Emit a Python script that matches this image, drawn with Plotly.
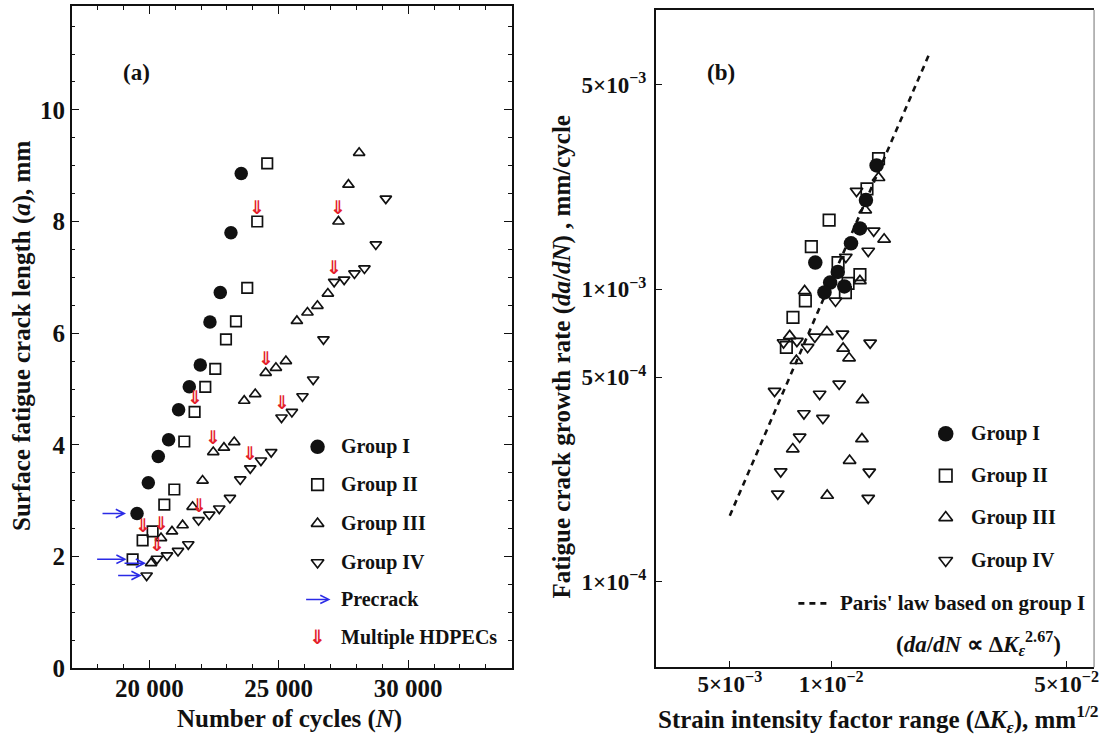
import math
import plotly.graph_objects as go

# ---------------- Panel (a): surface crack length vs number of cycles ----------------
g1_N = [19525, 19961, 20347, 20745, 21131, 21544, 21969, 22343, 22741, 23154, 23551]
g1_a = [2.77, 3.32, 3.79, 4.09, 4.63, 5.04, 5.43, 6.20, 6.73, 7.80, 8.86]
g2_N = [19355, 19741, 20127, 20579, 20965, 21351, 21749, 22162, 22548, 22961, 23347, 23783, 24169, 24555]
g2_a = [1.95, 2.29, 2.45, 2.93, 3.20, 4.06, 4.59, 5.04, 5.36, 5.89, 6.21, 6.81, 8.00, 9.04]
g3_N = [20066, 20452, 20876, 21285, 21671, 22057, 22470, 22883, 23281, 23667, 24092, 24497, 24891,
        25277, 25701, 26110, 26496, 26898, 27307, 27693, 28106]
g3_a = [1.88, 2.33, 2.45, 2.56, 2.89, 3.36, 3.87, 3.95, 4.05, 4.79, 4.91, 5.29, 5.38,
        5.50, 6.22, 6.37, 6.49, 6.71, 8.00, 8.66, 9.23]
g4_N = [19896, 20297, 20683, 21108, 21505, 21903, 22316, 22702, 23115, 23513, 23899, 24312, 24709,
        25107, 25508, 25917, 26330, 26728, 27141, 27527, 27925, 28311, 28751, 29137]
g4_a = [1.66, 1.96, 2.02, 2.10, 2.22, 2.65, 2.75, 2.86, 3.05, 3.38, 3.58, 3.72, 3.87,
        4.49, 4.59, 4.87, 5.17, 5.89, 6.92, 6.96, 7.07, 7.16, 7.59, 8.41]
# indices of points marked with "multiple HDPECs"
hdpec_g2 = [1, 6, 12]
hdpec_g3 = [1, 6, 11, 18]
hdpec_g4 = [1, 5, 10, 13, 18]

a_xticks = [20000, 25000, 30000]
a_xticklabels = ["20 000", "25 000", "30 000"]
a_yticks = [0, 2, 4, 6, 8, 10]
a_yticklabels = ["0", "2", "4", "6", "8", "10"]

# ---------------- Panel (b): crack growth rate vs strain intensity factor range ----------------
b1_K = [0.01364, 0.01268, 0.01217, 0.01145, 0.00897, 0.01046, 0.00993, 0.01094, 0.00955]
b1_r = [2.647e-3, 2.015e-3, 1.613e-3, 1.434e-3, 1.232e-3, 1.145e-3, 1.053e-3, 1.021e-3, 9.74e-4]
b2_K = [0.01382, 0.01277, 0.00986, 0.00873, 0.01048, 0.01217, 0.01122, 0.01102, 0.00838, 0.00770, 0.00736]
b2_r = [2.795e-3, 2.20e-3, 1.722e-3, 1.397e-3, 1.232e-3, 1.12e-3, 1.047e-3, 9.72e-4, 9.11e-4, 8.0e-4, 6.32e-4]
b3_K = [0.01382, 0.01262, 0.01436, 0.01217, 0.00834, 0.00753, 0.00971, 0.01085, 0.01130, 0.00788,
        0.01238, 0.01234, 0.00769, 0.01134, 0.00973]
b3_r = [2.403e-3, 1.863e-3, 1.48e-3, 1.067e-3, 9.86e-4, 6.92e-4, 7.14e-4, 6.27e-4, 5.81e-4, 5.69e-4,
        4.18e-4, 3.075e-4, 2.84e-4, 2.594e-4, 1.97e-4]
b4_K = [0.01189, 0.01337, 0.01288, 0.01105, 0.01030, 0.01080, 0.00894, 0.00791, 0.00851, 0.00722,
        0.01305, 0.00679, 0.00924, 0.01056, 0.00830, 0.00945, 0.00806, 0.00708, 0.01297, 0.00694, 0.01288]
b4_r = [2.163e-3, 1.582e-3, 1.35e-3, 1.287e-3, 9.11e-4, 7.03e-4, 6.87e-4, 6.64e-4, 6.33e-4, 6.57e-4,
        6.55e-4, 4.48e-4, 4.38e-4, 4.74e-4, 3.757e-4, 3.62e-4, 3.124e-4, 2.378e-4, 2.373e-4, 1.996e-4, 1.93e-4]
paris_K = [0.005, 0.0197]
paris_r = [1.68e-4, 6.5e-3]

b_xticks = [0.005, 0.01, 0.05]
b_xticklabels = ["5×10<sup>−3</sup>", "1×10<sup>−2</sup>", "5×10<sup>−2</sup>"]
b_yticks = [1e-4, 5e-4, 1e-3, 5e-3]
b_yticklabels = ["1×10<sup>−4</sup>", "5×10<sup>−4</sup>", "1×10<sup>−3</sup>", "5×10<sup>−3</sup>"]

group_names = ["Group I", "Group II", "Group III", "Group IV"]

# ---------------- styling ----------------
W, H = 1111, 752          # layout size
PW, PH = 1111, 740        # picture size used for placing things
SERIF = "Liberation Serif"
INK = "#111111"
BLUE = "#2a2ae6"
RED = "#e3202a"


def px_x(p):
    return p / PW


def px_y(p):
    return 1 - p / PH


def bold(labels):
    return ["<b>%s</b>" % s for s in labels]


styles = [
    dict(symbol="circle", size=13.5, color=INK, line=dict(width=0)),
    dict(symbol="square-open", size=10.5, color=INK, line=dict(width=1.7, color=INK)),
    dict(symbol="triangle-up-open", size=10, color=INK, line=dict(width=1.7, color=INK)),
    dict(symbol="triangle-down-open", size=10, color=INK, line=dict(width=1.7, color=INK)),
]

fig = go.Figure()

# Panel (a) data
a_sets = [(g1_N, g1_a), (g2_N, g2_a), (g3_N, g3_a), (g4_N, g4_a)]
for (n, a), st, nm in zip(a_sets, styles, group_names):
    fig.add_trace(go.Scatter(x=n, y=a, mode="markers", marker=st, name=nm,
                             showlegend=False, xaxis="x", yaxis="y", cliponaxis=False))

# Panel (b) data
fig.add_trace(go.Scatter(x=paris_K, y=paris_r, mode="lines",
                         line=dict(color=INK, width=2.6, dash="6px,5px"),
                         showlegend=False, xaxis="x2", yaxis="y2"))
b_sets = [(b2_K, b2_r, 1), (b3_K, b3_r, 2), (b4_K, b4_r, 3), (b1_K, b1_r, 0)]
for k, r, i in b_sets:
    st = dict(styles[i])
    st["size"] = st["size"] + 1
    fig.add_trace(go.Scatter(x=k, y=r, mode="markers", marker=st, name=group_names[i],
                             showlegend=False, xaxis="x2", yaxis="y2"))

annotations = []

# Red "multiple HDPECs" markers above points
for idxs, (n, a) in zip([hdpec_g2, hdpec_g3, hdpec_g4], a_sets[1:]):
    for i in idxs:
        annotations.append(dict(x=n[i], y=a[i], xref="x", yref="y", text="<b>⇓</b>", showarrow=False,
                                yshift=15, font=dict(family="DejaVu Sans", size=19, color=RED)))

# Blue precrack arrows pointing at the first point of each group
pre_ax = [-36, -37, -28, -30]
pre_stand = [11, 6, 5, 5]
for (n, a), axo, so in zip(a_sets, pre_ax, pre_stand):
    annotations.append(dict(x=n[0], y=a[0], xref="x", yref="y", ax=axo, ay=0, axref="pixel", ayref="pixel",
                            showarrow=True, arrowhead=5, arrowsize=1.1, arrowwidth=1.5, arrowcolor=BLUE,
                            standoff=so, text=""))

# ---------------- legends (drawn on a full-figure overlay in picture pixels) ----------------
leg_a_y = [448, 486, 525, 564, 601, 639]
leg_a_sx, leg_a_tx = 319, 341
leg_b_y = [435, 477, 519, 562]
leg_b_sx, leg_b_tx = 950, 973
LEGFONT = dict(family=SERIF, size=20, color=INK)

for i in range(4):
    st = dict(styles[i]); st["size"] = st["size"] + 1
    fig.add_trace(go.Scatter(x=[leg_a_sx], y=[leg_a_y[i]], mode="markers", marker=st,
                             showlegend=False, xaxis="x3", yaxis="y3"))
    st2 = dict(styles[i]); st2["size"] = st2["size"] + 2
    fig.add_trace(go.Scatter(x=[leg_b_sx], y=[leg_b_y[i]], mode="markers", marker=st2,
                             showlegend=False, xaxis="x3", yaxis="y3"))
    annotations.append(dict(x=leg_a_tx, y=leg_a_y[i], xref="x3", yref="y3", text="<b>%s</b>" % group_names[i],
                            showarrow=False, xanchor="left", yanchor="middle", font=LEGFONT))
    annotations.append(dict(x=leg_b_tx, y=leg_b_y[i], xref="x3", yref="y3", text="<b>%s</b>" % group_names[i],
                            showarrow=False, xanchor="left", yanchor="middle", font=LEGFONT))

annotations.append(dict(x=332, y=leg_a_y[4], xref="x3", yref="y3", ax=306, ay=leg_a_y[4], axref="x3", ayref="y3",
                        showarrow=True, arrowhead=5, arrowsize=1.1, arrowwidth=1.5, arrowcolor=BLUE, text=""))
annotations.append(dict(x=leg_a_tx, y=leg_a_y[4], xref="x3", yref="y3", text="<b>Precrack</b>",
                        showarrow=False, xanchor="left", yanchor="middle", font=LEGFONT))
annotations.append(dict(x=leg_a_sx, y=leg_a_y[5], xref="x3", yref="y3", text="<b>⇓</b>", showarrow=False,
                        font=dict(family="DejaVu Sans", size=20, color=RED)))
annotations.append(dict(x=leg_a_tx, y=leg_a_y[5], xref="x3", yref="y3", text="<b>Multiple HDPECs</b>",
                        showarrow=False, xanchor="left", yanchor="middle", font=LEGFONT))

fig.add_trace(go.Scatter(x=[802, 831], y=[605, 605], mode="lines",
                         line=dict(color=INK, width=2.6, dash="6px,5px"),
                         showlegend=False, xaxis="x3", yaxis="y3"))
annotations.append(dict(x=842, y=605, xref="x3", yref="y3", text="<b>Paris' law based on group I</b>",
                        showarrow=False, xanchor="left", yanchor="middle", font=dict(family=SERIF, size=21, color=INK)))
annotations.append(dict(x=983, y=645, xref="x3", yref="y3",
                        text="<b>(<i>da</i>/<i>dN</i> ∝ Δ<i>K</i><sub><i>ε</i></sub><sup>2.67</sup>)</b>",
                        showarrow=False, xanchor="center", yanchor="middle", font=dict(family=SERIF, size=23, color=INK)))

# panel labels
annotations.append(dict(x=137, y=73, xref="x3", yref="y3", text="<b>(a)</b>", showarrow=False,
                        font=dict(family=SERIF, size=23, color=INK)))
annotations.append(dict(x=724, y=73, xref="x3", yref="y3", text="<b>(b)</b>", showarrow=False,
                        font=dict(family=SERIF, size=23, color=INK)))

# axis titles
TITLEFONT = dict(family=SERIF, size=25, color=INK)
annotations.append(dict(x=22, y=337, xref="x3", yref="y3", textangle=-90,
                        text="<b>Surface fatigue crack length (<i>a</i>), mm</b>", showarrow=False, font=TITLEFONT))
annotations.append(dict(x=291, y=721, xref="x3", yref="y3",
                        text="<b>Number of cycles (<i>N</i>)</b>", showarrow=False, font=TITLEFONT))
annotations.append(dict(x=565, y=358, xref="x3", yref="y3", textangle=-90,
                        text="<b>Fatigue crack growth rate (<i>da</i>/<i>dN</i>) , mm/cycle</b>", showarrow=False,
                        font=TITLEFONT))
annotations.append(dict(x=882, y=721, xref="x3", yref="y3",
                        text="<b>Strain intensity factor range (Δ<i>K</i><sub><i>ε</i></sub>), mm<sup>1/2</sup></b>",
                        showarrow=False, font=TITLEFONT))

tickfont_a = dict(family=SERIF, size=25, color=INK)
tickfont_b = dict(family=SERIF, size=23, color=INK)

fig.update_layout(
    width=W, height=H,
    margin=dict(l=0, r=0, t=0, b=0),
    paper_bgcolor="white", plot_bgcolor="rgba(0,0,0,0)",
    showlegend=False,
    annotations=annotations,
    shapes=[dict(type="line", xref="paper", yref="paper", x0=px_x(1099), x1=px_x(1099),
                 y0=px_y(669), y1=px_y(10), line=dict(color="#888888", width=1.2))],
    xaxis=dict(domain=[px_x(72), px_x(514)], range=[17000, 34000], anchor="y",
               tickvals=a_xticks, ticktext=bold(a_xticklabels), ticks="inside", ticklen=8, tickwidth=1.2,
               tickcolor=INK, showline=True, linecolor=INK, linewidth=1.5, mirror="ticks",
               showgrid=False, zeroline=False, tickfont=tickfont_a, ticklabelstandoff=-3,
               minor=dict(dtick=1000, ticks="inside", ticklen=4, tickcolor=INK, tickwidth=1)),
    yaxis=dict(domain=[px_y(670), px_y(6)], range=[0, 11.86], anchor="x",
               tickvals=a_yticks, ticktext=bold(a_yticklabels), ticks="inside", ticklen=8, tickwidth=1.2,
               tickcolor=INK, showline=True, linecolor=INK, linewidth=1.5, mirror="ticks",
               showgrid=False, zeroline=False, tickfont=tickfont_a, ticklabelstandoff=0,
               minor=dict(dtick=0.5, ticks="inside", ticklen=4, tickcolor=INK, tickwidth=1)),
    xaxis2=dict(domain=[px_x(659), px_x(1099)], type="log",
                range=[math.log10(0.00302), math.log10(0.0603)], anchor="y2",
                tickvals=b_xticks, ticktext=bold(b_xticklabels), ticks="inside", ticklen=6, tickwidth=1.2,
                tickcolor=INK, showline=True, linecolor=INK, linewidth=2, mirror=True,
                showgrid=False, zeroline=False, tickfont=tickfont_b, ticklabelstandoff=-5),
    yaxis2=dict(domain=[px_y(669), px_y(10)], type="log",
                range=[math.log10(5.1e-5), math.log10(9.0e-3)], anchor="x2",
                tickvals=b_yticks, ticktext=bold(b_yticklabels), ticks="inside", ticklen=6, tickwidth=1.2,
                tickcolor=INK, showline=True, linecolor=INK, linewidth=2,
                showgrid=False, zeroline=False, tickfont=tickfont_b, ticklabelstandoff=3),
    xaxis3=dict(domain=[0, 1], range=[0, PW], anchor="y3", visible=False, fixedrange=True),
    yaxis3=dict(domain=[0, 1], range=[PH, 0], anchor="x3", visible=False, fixedrange=True),
)

fig.write_html("out.html")
